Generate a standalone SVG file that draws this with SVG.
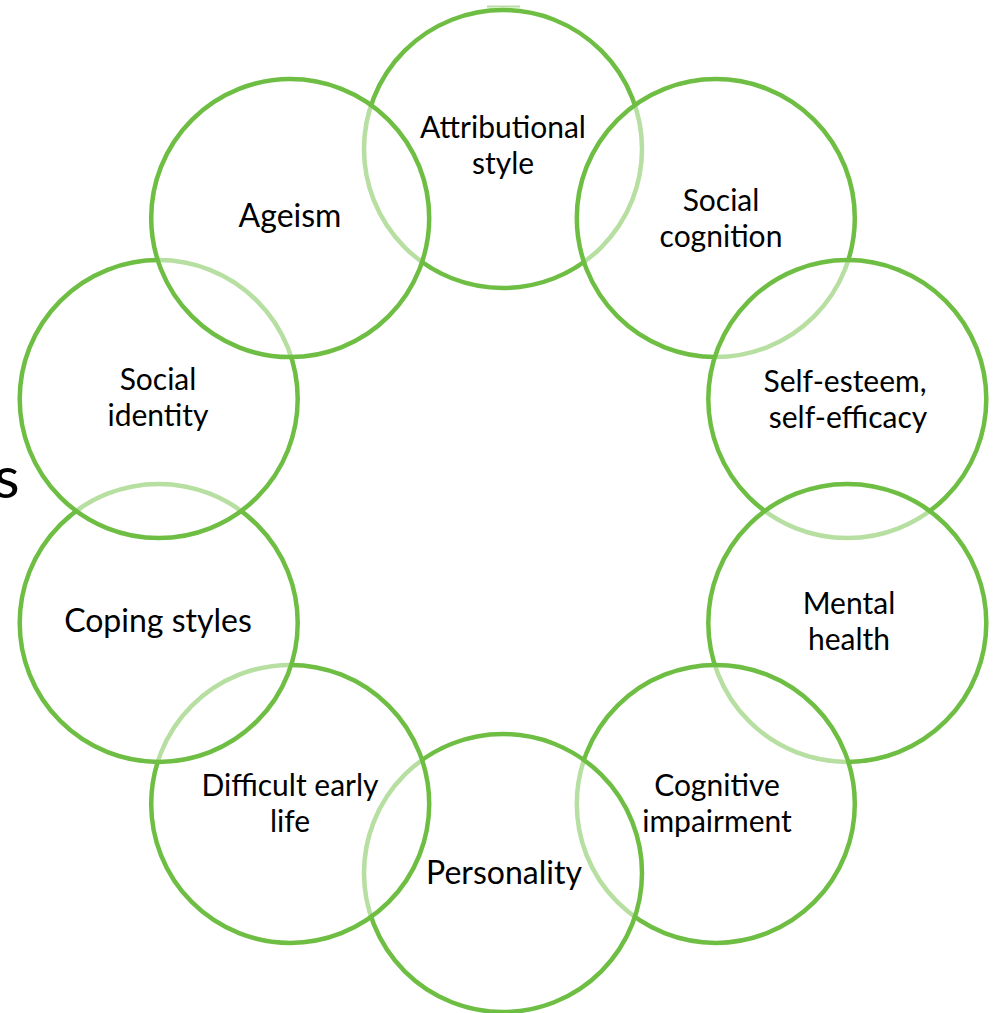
<svg xmlns="http://www.w3.org/2000/svg" width="994" height="1013" viewBox="0 0 994 1013">
  <style>
    .ring { fill: #ffffff; fill-opacity: 0.5; stroke: #6fbe44; stroke-width: 4.5; }
    .lbl { font-family: Lato, "Liberation Sans", sans-serif; font-size: 30px; fill: #000000; text-anchor: middle; }
    .big { font-size: 32px; }
  </style>
  <rect x="0" y="0" width="994" height="1013" fill="#ffffff"/>

  <!-- clipped caption fragment at the left edge -->
  <text x="-6" y="498" style="font-family: Lato, 'Liberation Sans', sans-serif; font-size: 59px; fill: #000;">s</text>
  <!-- small stray stroke above the top circle -->
  <line x1="487" y1="6.5" x2="520" y2="6.5" stroke="#b8dfa1" stroke-width="2"/>

  <!-- circles on a ring of radius 362 about (503,511), drawn clockwise from the top;
       each half-transparent fill softens the previous circle's stroke where they overlap -->
  <g id="node-attributional">
    <circle class="ring" cx="503" cy="149" r="139"/>
    <text class="lbl"><tspan x="503" y="138">Attributional</tspan><tspan x="503" y="174">style</tspan></text>
  </g>
  <g id="node-social-cognition">
    <circle class="ring" cx="715.8" cy="218.1" r="139"/>
    <text class="lbl"><tspan x="721" y="211">Social</tspan><tspan x="721" y="247">cognition</tspan></text>
  </g>
  <g id="node-self-esteem">
    <circle class="ring" cx="847.3" cy="399.1" r="139"/>
    <text class="lbl"><tspan x="845" y="392">Self-esteem,</tspan><tspan x="848" y="428">self-efficacy</tspan></text>
  </g>
  <g id="node-mental-health">
    <circle class="ring" cx="847.3" cy="622.9" r="139"/>
    <text class="lbl"><tspan x="849" y="614">Mental</tspan><tspan x="849" y="650">health</tspan></text>
  </g>
  <g id="node-cognitive-impairment">
    <circle class="ring" cx="715.8" cy="803.9" r="139"/>
    <text class="lbl"><tspan x="717" y="796">Cognitive</tspan><tspan x="717" y="832">impairment</tspan></text>
  </g>
  <g id="node-personality">
    <circle class="ring" cx="503" cy="873" r="139"/>
    <text class="lbl big"><tspan x="504" y="884">Personality</tspan></text>
  </g>
  <g id="node-difficult-early-life">
    <circle class="ring" cx="290.2" cy="803.9" r="139"/>
    <text class="lbl"><tspan x="290" y="796">Difficult early</tspan><tspan x="290" y="832">life</tspan></text>
  </g>
  <g id="node-coping-styles">
    <circle class="ring" cx="158.7" cy="622.9" r="139"/>
    <text class="lbl big"><tspan x="158" y="632">Coping styles</tspan></text>
  </g>
  <g id="node-social-identity">
    <circle class="ring" cx="158.7" cy="399.1" r="139"/>
    <text class="lbl"><tspan x="158" y="390">Social</tspan><tspan x="158" y="426">identity</tspan></text>
  </g>
  <g id="node-ageism">
    <circle class="ring" cx="290.2" cy="218.1" r="139"/>
    <text class="lbl big"><tspan x="290" y="227">Ageism</tspan></text>
  </g>

  <g id="connectors"></g>
</svg>
